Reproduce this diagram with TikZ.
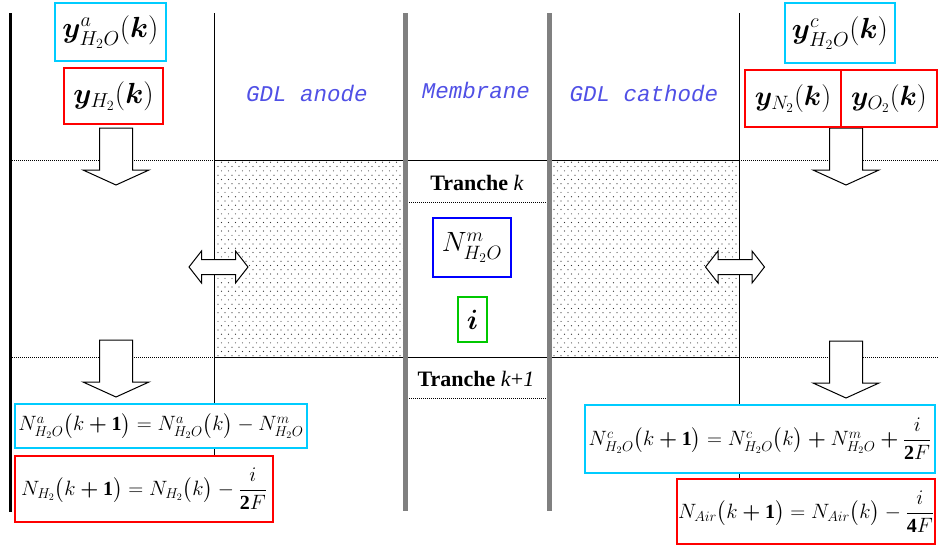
\documentclass[tikz,border=0pt]{standalone}
\usepackage{amsmath}
\usepackage{graphicx}
\usepackage{fontspec}
\usepackage{bm}
\setmainfont{Liberation Serif}
\newfontfamily\labfont{Liberation Mono}
\usetikzlibrary{patterns.meta}
\definecolor{cyanbox}{RGB}{0,204,255}
\definecolor{redbox}{RGB}{255,0,0}
\definecolor{bluebox}{RGB}{0,0,255}
\definecolor{greenbox}{RGB}{0,200,0}
\definecolor{barg}{RGB}{128,128,128}
\definecolor{labc}{RGB}{80,80,230}
\newcommand{\bigmath}[2]{\scalebox{#1}{$#2$}}
\tikzdeclarepattern{
  name=gdldots,
  type=uncolored,
  bottom left={(-1pt,-1pt)},
  top right={(8pt,9.6pt)},
  tile size={(7pt,8.6pt)},
  code={
    \fill (1pt,1pt) circle (0.6pt);
    \fill (4.5pt,5.3pt) circle (0.6pt);
  }
}
\tikzset{
  boxbase/.style={draw, fill=white, line width=2.3pt, inner sep=0pt, align=center},
  cyanb/.style={boxbase, draw=cyanbox},
  redb/.style={boxbase, draw=redbox},
  blueb/.style={boxbase, draw=bluebox},
  greenb/.style={boxbase, draw=greenbox},
  toplbl/.style={font=\fontsize{24}{28}\selectfont},
  eqlbl/.style={font=\fontsize{20}{24}\selectfont},
  zonelbl/.style={text=labc, font=\labfont\itshape\fontsize{22.5}{26}\selectfont, inner sep=0pt},
  tranchelbl/.style={font=\fontsize{22}{26}\selectfont, inner sep=0pt},
  dotline/.style={line width=0.8pt, dash pattern=on 1pt off 1pt},
  thinline/.style={line width=1pt},
  graybar/.style={draw=barg, line width=5pt},
  downarr/.pic={\draw[line width=1pt, fill=white] (-16.5,0) -- (16.5,0) -- (16.5,42) -- (33,42) -- (0,57) -- (-33,42) -- (-16.5,42) -- cycle;},
  dblarr/.pic={\draw[line width=1pt, fill=white] (-29.5,0) -- (-17,-16) -- (-17,-7.5) -- (17,-7.5) -- (17,-16) -- (29.5,0) -- (17,16) -- (17,7.5) -- (-17,7.5) -- (-17,16) -- cycle;}
}
\begin{document}
\begin{tikzpicture}[x=1pt,y=-1pt]
\useasboundingbox (0,0) rectangle (938,546);
\fill[white] (0,0) rectangle (938,546);
% dotted GDL regions
\fill[pattern=gdldots, pattern color=black!80] (214,160) rectangle (404,357);
\fill[pattern=gdldots, pattern color=black!80] (549,160) rectangle (739,357);
% horizontal lines
\draw[dotline] (10,160) -- (214,160);
\draw[dotline] (739,160) -- (938,160);
\draw[dotline] (10,357) -- (214,357);
\draw[dotline] (739,357) -- (938,357);
\draw[thinline] (214,160) -- (739,160);
\draw[thinline] (214,357) -- (739,357);
\draw[dotline] (407,202) -- (547,202);
\draw[dotline] (407,398) -- (547,398);
% vertical lines
\draw[line width=3pt] (10,13) -- (10,512);
\draw[thinline] (214,13) -- (214,512);
\draw[thinline] (739,13) -- (739,512);
\draw[graybar] (405,13) -- (405,511);
\draw[graybar] (549,13) -- (549,511);
% zone labels
\node[zonelbl] (lanode) at (307,93) {GDL anode};
\node[zonelbl] (lmemb) at (476,90) {Membrane};
\node[zonelbl] (lcath) at (644,93) {GDL cathode};
% tranche labels
\node[tranchelbl] (tk) at (477,183) {\textbf{Tranche} \textit{k}};
\node[tranchelbl] (tk1) at (476,379) {\textbf{Tranche} \textit{k}+\textit{1}};
% block arrows
\pic at (116,128) {downarr};
\pic at (116,340) {downarr};
\pic at (846,128) {downarr};
\pic at (846,341) {downarr};
\pic at (218.5,267) {dblarr};
\pic at (735,267) {dblarr};
% top boxes
\node[cyanb, toplbl, minimum width=111pt, minimum height=58pt] (ya) at (110.5,32) {\bigmath{1.17}{\bm{y}^{a}_{H_2O}(\bm{k})}};
\node[redb, toplbl, minimum width=99pt, minimum height=56pt] (yh2) at (113.5,96) {\bigmath{1.17}{\bm{y}_{H_2}(\bm{k})}};
\node[cyanb, toplbl, minimum width=110pt, minimum height=60pt] (yc) at (840,33) {\bigmath{1.17}{\bm{y}^{c}_{H_2O}(\bm{k})}};
\node[redb, toplbl, minimum width=96pt, minimum height=57pt] (yn2) at (793,98.5) {\bigmath{1.12}{\bm{y}_{N_2}(\bm{k})}};
\node[redb, toplbl, minimum width=96pt, minimum height=57pt] (yo2) at (889,98.5) {\bigmath{1.12}{\bm{y}_{O_2}(\bm{k})}};
% membrane boxes
\node[blueb, toplbl, minimum width=78pt, minimum height=59pt] (nm) at (472,247.5) {\bigmath{1.12}{N^{m}_{H_2O}}};
\node[greenb, toplbl, minimum width=29pt, minimum height=45pt] (cur) at (472.5,319.5) {\bigmath{1.12}{\bm{i}}};
% bottom equations
\node[cyanb, eqlbl, minimum width=292pt, minimum height=44pt] (eqa) at (161,426) {$N^{a}_{H_2O}\bigl(k\bm{+}\mathbf{1}\bigr)=N^{a}_{H_2O}\bigl(k\bigr)-N^{m}_{H_2O}$};
\node[redb, eqlbl, minimum width=258pt, minimum height=66pt] (eqh) at (144,489) {$N_{H_2}\bigl(k\bm{+}\mathbf{1}\bigr)=N_{H_2}\bigl(k\bigr)-\dfrac{i}{\mathbf{2}F}$};
\node[cyanb, eqlbl, minimum width=350pt, minimum height=68pt] (eqc) at (760,439) {$N^{c}_{H_2O}\bigl(k\bm{+}\mathbf{1}\bigr)=N^{c}_{H_2O}\bigl(k\bigr)\bm{+}N^{m}_{H_2O}\bm{+}\dfrac{i}{\mathbf{2}F}$};
\node[redb, eqlbl, minimum width=258pt, minimum height=65pt] (eqair) at (806,511.5) {$N_{Air}\bigl(k\bm{+}\mathbf{1}\bigr)=N_{Air}\bigl(k\bigr)-\dfrac{i}{\mathbf{4}F}$};
\end{tikzpicture}
\end{document}
